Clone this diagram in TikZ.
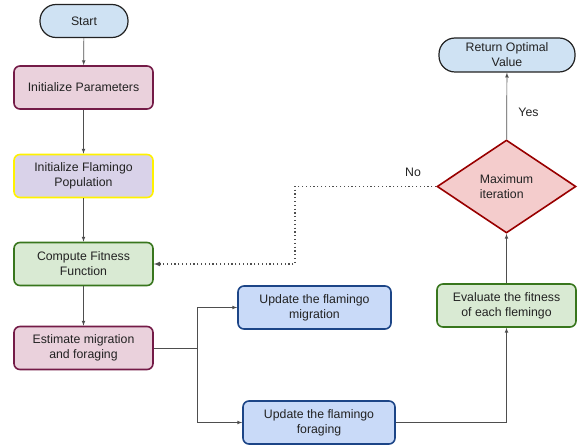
\documentclass[tikz,border=0pt]{standalone}
\usepackage{fontspec}
\setmainfont{Liberation Sans}
\usetikzlibrary{arrows,shapes.geometric}

\definecolor{termfill}{HTML}{CFE2F3}
\definecolor{pinkfill}{HTML}{EAD1DC}
\definecolor{pinkline}{HTML}{741B47}
\definecolor{lilacfill}{HTML}{D9D2E9}
\definecolor{yellowline}{HTML}{FFF200}
\definecolor{greenfill}{HTML}{D9EAD3}
\definecolor{greenline}{HTML}{38761D}
\definecolor{bluefill}{HTML}{C9DAF8}
\definecolor{blueline}{HTML}{1C4587}
\definecolor{redfill}{HTML}{F4CCCC}
\definecolor{redline}{HTML}{990000}
\definecolor{ink}{HTML}{222222}

\tikzset{
  txt/.style={font=\fontsize{12.3}{15}\selectfont, text=ink},
  box/.style={rectangle, rounded corners=6pt, line width=1.6pt, minimum width=139pt,
    minimum height=43pt, align=center, txt},
  term/.style={box, draw=ink, fill=termfill, rounded corners=16pt, line width=1.2pt},
  decide/.style={diamond, draw=redline, fill=redfill, line width=1.6pt, inner sep=0pt,
    minimum width=139pt, minimum height=93pt, aspect=1.5, align=left, txt},
  flow/.style={-latex, line width=0.7pt, draw=ink!80},
  back/.style={-latex, line width=1.2pt, dash pattern=on 1.2pt off 2.6pt, draw=ink!80}
}

\begin{document}
\begin{tikzpicture}[x=1pt,y=-1pt]
\useasboundingbox (0,0) rectangle (579,446);

\node[term, minimum width=88pt, minimum height=33pt] (start) at (84,21) {Start};
\node[box, draw=pinkline, fill=pinkfill] (initpar) at (83.5,87.5) {Initialize Parameters};
\node[box, draw=yellowline, fill=lilacfill] (initpop) at (83.5,176) {Initialize Flamingo\\Population};
\node[box, draw=greenline, fill=greenfill] (fitness) at (83.5,264) {Compute Fitness\\Function};
\node[box, draw=pinkline, fill=pinkfill] (estim) at (83.5,348) {Estimate migration\\and foraging};
\node[box, draw=blueline, fill=bluefill, minimum width=153pt] (migr) at (314.5,307.5) {Update the flamingo\\migration};
\node[box, draw=blueline, fill=bluefill, minimum width=152pt] (forag) at (319,422.5) {Update the flamingo\\foraging};
\node[box, draw=greenline, fill=greenfill] (evalfit) at (506.5,305.5) {Evaluate the fitness\\of each flemingo};
\node[decide] (maxit) at (506.5,186.5) {Maximum\\iteration};
\node[term, minimum width=136pt, minimum height=34pt] (result) at (507,55) {Return Optimal\\Value};

\coordinate (split) at (197,348);
\coordinate (bend) at (295,186.5);

\draw[flow] (start) -- (initpar);
\draw[flow] (initpar) -- (initpop);
\draw[flow] (initpop) -- (fitness);
\draw[flow] (fitness) -- (estim);
\draw[line width=0.7pt, draw=ink!80] (estim.east) -- (split);
\draw[flow] (split) |- (migr.west);
\draw[flow] (split) |- (forag.west);
\draw[flow] (forag.east) -| (evalfit.south);
\draw[flow] (evalfit) -- (maxit);
\draw[flow] (maxit) -- node[right, txt, pos=0.4, xshift=8pt] {Yes} (result);
\draw[back] (maxit.west) -- (bend) |- (fitness.east);
\node[txt] (nolabel) at (413,172) {No};

\end{tikzpicture}
\end{document}
